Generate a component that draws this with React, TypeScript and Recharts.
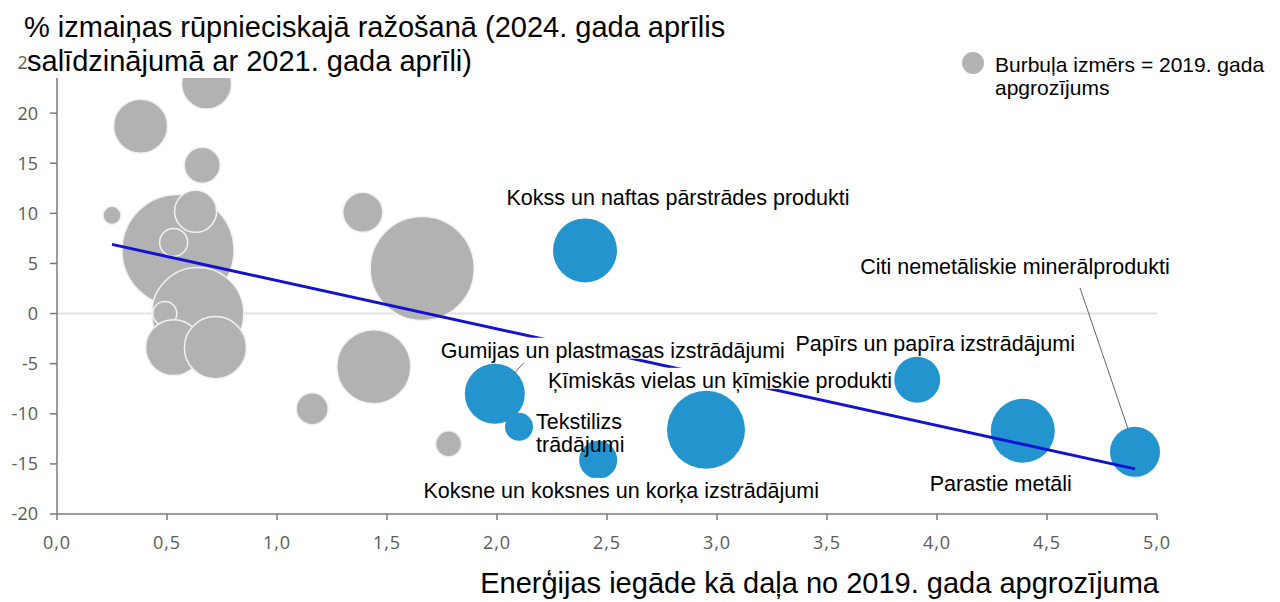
import React, { useLayoutEffect, useRef, useState } from 'react';
import { ScatterChart, Scatter, XAxis, YAxis, ZAxis, CartesianGrid } from 'recharts';

// other manufacturing sectors (grey bubbles)
const grayX = [0.38, 0.68, 0.66, 0.25, 0.55, 0.63, 0.53, 0.64, 0.49, 0.53, 0.72, 1.16, 1.44, 1.39, 1.66, 1.78];
const grayY = [18.7, 22.9, 14.8, 9.8, 6.3, 10.2, 7.1, 0.0, 0.0, -3.4, -3.4, -9.5, -5.3, 10.1, 4.5, -13.0];
const grayTurnover = [401, 344, 178, 45, 1725, 243, 108, 1164, 79, 431, 529, 141, 753, 220, 1487, 93];

// energy-intensive sectors (blue bubbles)
const blueNames = [
  'Kokss un naftas pārstrādes produkti',
  'Gumijas un plastmasas izstrādājumi',
  'Tekstilizs\ntrādājumi',
  'Koksne un koksnes un korķa izstrādājumi',
  'Ķīmiskās vielas un ķīmiskie produkti',
  'Papīrs un papīra izstrādājumi',
  'Parastie metāli',
  'Citi nemetāliskie minerālprodukti',
];
const blueX = [2.4, 1.99, 2.1, 2.46, 2.95, 3.91, 4.39, 4.9];
const blueY = [6.3, -8.0, -11.3, -14.6, -11.6, -6.6, -11.7, -13.8];
const blueTurnover = [563, 495, 108, 199, 837, 291, 563, 344];

const trendX = [0.25, 4.9];
const trendY = [6.9, -15.5];

const xTicks = [0, 0.5, 1, 1.5, 2, 2.5, 3, 3.5, 4, 4.5, 5];
const yTicks = [-20, -15, -10, -5, 0, 5, 10, 15, 20, 25];

const Z_MAX = 1725;
const MAX_R = 56;

const grayData = grayX.map((x, i) => ({ x, y: grayY[i], z: grayTurnover[i] }));
const blueData = blueX.map((x, i) => ({ name: blueNames[i], x, y: blueY[i], z: blueTurnover[i] }));
const trendData = trendX.map((x, i) => ({ x, y: trendY[i] }));

const FONT = '"Liberation Sans", Arial, sans-serif';
const TICK_FONT = '"Open Sans", "Noto Sans", sans-serif';
const GREY = '#b2b2b2';
const BLUE = '#2394ce';
const LABEL_SIZE = 21.5;

// where each label sits relative to its bubble (pixels)
const LABEL_LAYOUT: Record<string, { dx: number; dy: number; anchor: 'start' | 'middle'; lead?: number[] }> = {
  'Kokss un naftas pārstrādes produkti': { dx: 93, dy: -45, anchor: 'middle' },
  'Gumijas un plastmasas izstrādājumi': { dx: 118, dy: -36, anchor: 'middle', lead: [20, -21, 29, -31] },
  'Tekstilizs\ntrādājumi': { dx: 17, dy: 2, anchor: 'start' },
  'Koksne un koksnes un korķa izstrādājumi': { dx: 23, dy: 38, anchor: 'middle' },
  'Ķīmiskās vielas un ķīmiskie produkti': { dx: 14, dy: -42, anchor: 'middle' },
  'Papīrs un papīra izstrādājumi': { dx: 18, dy: -29, anchor: 'middle' },
  'Parastie metāli': { dx: -22, dy: 60, anchor: 'middle' },
  'Citi nemetāliskie minerālprodukti': { dx: -120, dy: -178, anchor: 'middle', lead: [-55, -164, -7, -23] },
};

function BoxedText({ x, y, anchor, text }: { x: number; y: number; anchor: string; text: string }) {
  const ref = useRef<SVGTextElement>(null);
  const [box, setBox] = useState<{ x: number; w: number } | null>(null);
  useLayoutEffect(() => {
    if (ref.current) {
      const b = ref.current.getBBox();
      setBox({ x: b.x, w: b.width });
    }
  }, [x, y, text]);
  return (
    <g>
      {box && <rect x={box.x - 1} y={y - 20} width={box.w + 2} height={21} fill="#fff" />}
      <text ref={ref} x={x} y={y} textAnchor={anchor} fontFamily={FONT} fontSize={LABEL_SIZE} fill="#000">
        {text}
      </text>
    </g>
  );
}

function BubbleLabel(props: any) {
  const { cx, cy, payload } = props;
  if (cx == null || cy == null || !payload) return <g />;
  const lay = LABEL_LAYOUT[payload.name];
  if (!lay) return <g />;
  const lines = String(payload.name).split('\n');
  return (
    <g>
      {lay.lead && (
        <line
          x1={cx + lay.lead[0]}
          y1={cy + lay.lead[1]}
          x2={cx + lay.lead[2]}
          y2={cy + lay.lead[3]}
          stroke="#666"
          strokeWidth={1}
        />
      )}
      {lines.length === 1 ? (
        <BoxedText x={cx + lay.dx} y={cy + lay.dy} anchor={lay.anchor} text={lines[0]} />
      ) : (
        lines.map((t, i) => (
          <text key={i} x={cx + lay.dx} y={cy + lay.dy + i * 23} textAnchor={lay.anchor} fontFamily={FONT} fontSize={LABEL_SIZE}>
            {t}
          </text>
        ))
      )}
    </g>
  );
}

const bubble = (fill: string, stroke: string) => (p: any) => {
  if (p.cx == null || p.cy == null) return <g />;
  return <circle cx={p.cx} cy={p.cy} r={p.width / 2} fill={fill} stroke={stroke} strokeWidth={1.5} />;
};

const fmt = (v: number) => v.toFixed(1).replace('.', ',');

export default function App() {
  return (
    <div style={{ position: 'absolute', left: 0, top: 0, width: 1280, height: 602, background: '#fff', overflow: 'hidden' }}>
      <ScatterChart width={1280} height={602} margin={{ top: 63, right: 123, bottom: 48, left: 7 }}>
        <CartesianGrid vertical={false} horizontalValues={[0]} stroke="#e2e2e2" strokeWidth={2} />
        <XAxis
          type="number"
          dataKey="x"
          domain={[0, 5]}
          ticks={xTicks}
          tickFormatter={fmt}
          height={40}
          tickSize={6}
          tickMargin={16}
          stroke="#7a7a7a"
          strokeWidth={1.5}
          tick={{ fill: '#5a5a5a', fontSize: 18, fontFamily: TICK_FONT, letterSpacing: 1 }}
        />
        <YAxis
          type="number"
          dataKey="y"
          domain={[-20, 25]}
          ticks={yTicks}
          width={50}
          tickSize={7}
          tickMargin={12}
          stroke="#7a7a7a"
          strokeWidth={1.5}
          tick={{ fill: '#5a5a5a', fontSize: 18, fontFamily: TICK_FONT }}
        />
        <ZAxis type="number" dataKey="z" domain={[0, Z_MAX]} range={[0, Math.PI * MAX_R * MAX_R]} />
        <Scatter data={grayData} shape={bubble(GREY, '#f2f2f2')} isAnimationActive={false} />
        <Scatter data={blueData} shape={bubble(BLUE, 'none')} isAnimationActive={false} />
        <Scatter
          data={trendData}
          line={{ stroke: '#1212d4', strokeWidth: 3 }}
          shape={() => <g />}
          isAnimationActive={false}
        />
        <Scatter data={blueData} shape={(p: any) => <BubbleLabel {...p} />} isAnimationActive={false} />
      </ScatterChart>

      <div style={{ position: 'absolute', left: 24, top: 10, fontFamily: FONT, fontSize: 29, lineHeight: '34px', color: '#000', whiteSpace: 'nowrap' }}>
        % izmaiņas rūpnieciskajā ražošanā (2024. gada aprīlis
      </div>
      <div style={{ position: 'absolute', left: 27, top: 44, fontFamily: FONT, fontSize: 29, lineHeight: '34px', color: '#000', background: '#fff', whiteSpace: 'nowrap' }}>
        salīdzinājumā ar 2021. gada aprīli)
      </div>

      <div style={{ position: 'absolute', left: 962, top: 52, width: 22, height: 22, borderRadius: 11, background: GREY }} />
      <div style={{ position: 'absolute', left: 995, top: 53, fontFamily: FONT, fontSize: 21, lineHeight: '23px', color: '#000' }}>
        Burbuļa izmērs = 2019. gada
        <br />
        apgrozījums
      </div>

      <div style={{ position: 'absolute', right: 121, top: 566, fontFamily: FONT, fontSize: 29, lineHeight: '34px', color: '#000', whiteSpace: 'nowrap' }}>
        Enerģijas iegāde kā daļa no 2019. gada apgrozījuma
      </div>
    </div>
  );
}
